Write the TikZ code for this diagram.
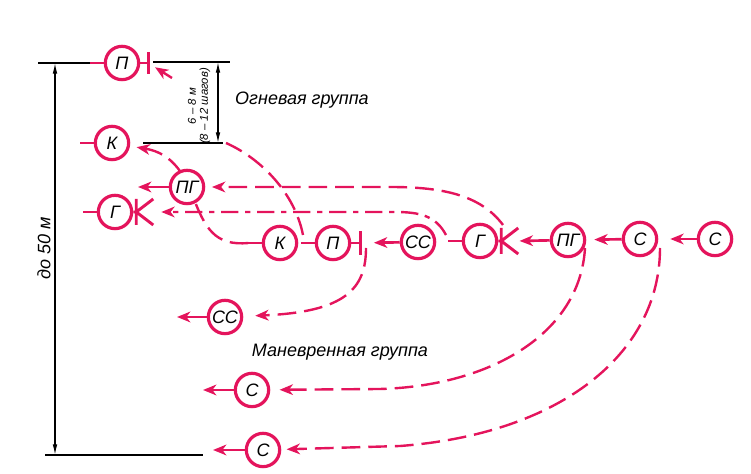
\documentclass[tikz,border=0pt]{standalone}
\usepackage{fontspec}
\setmainfont{Liberation Sans}
\usetikzlibrary{arrows.meta,backgrounds}

\definecolor{troop}{RGB}{228,20,92}

\tikzset{
  unit/.style={circle, draw=troop, fill=white, line width=2.4pt, minimum size=25pt,
    inner sep=0pt, font=\fontsize{13.5}{13.5}\selectfont\itshape},
  stub/.style={troop, line width=2.2pt},
  go/.style={troop, line width=2pt, -{Stealth[length=10pt,width=8pt,inset=3pt]}},
  move/.style={go, line width=1.8pt, dash pattern=on 14pt off 6pt},
  movedot/.style={go, line width=1.8pt, dash pattern=on 13pt off 5pt on 4pt off 5pt},
  dim/.style={black, line width=0.9pt},
  dimarrow/.style={dim, {Latex[length=8pt,width=3.5pt]}-{Latex[length=8pt,width=3.5pt]}},
  grouptext/.style={font=\fontsize{13.5}{15}\selectfont\itshape},
  smalltext/.style={font=\fontsize{8.5}{9}\selectfont\itshape},
}

\begin{document}
\begin{tikzpicture}[x=0.75pt, y=0.75pt]
  \useasboundingbox (0,0) rectangle (751,474);

  % fire group
  \node[unit] (pT)  at (122,411) {П};
  \node[unit] (kT)  at (112,331) {К};
  \node[unit] (pgT) at (187,287) {ПГ};
  \node[unit] (gT)  at (115,262) {Г};

  % column
  \node[unit] (k1)  at (280,231) {К};
  \node[unit] (p1)  at (333,231) {П};
  \node[unit] (ss1) at (418,232) {СС};
  \node[unit] (g1)  at (480,233) {Г};
  \node[unit] (pg1) at (568,234) {ПГ};
  \node[unit] (s1)  at (640,235) {С};
  \node[unit] (s2)  at (715,235) {С};

  % manoeuvre group
  \node[unit] (ssB) at (225,157) {СС};
  \node[unit] (sB1) at (252,84)  {С};
  \node[unit] (sB2) at (263,24)  {С};

  % stubs, bars and forks
  \foreach \n in {pT,kT,gT,k1,p1,g1} {
    \coordinate (\n-end) at ([xshift=-10pt]\n.west);
    \draw[stub] (\n.west) -- (\n-end);
  }
  \coordinate (pT-bar) at ([xshift=6pt]pT.east);
  \coordinate (p1-bar) at ([xshift=7pt]p1.east);
  \draw[stub] (pT.east) -- (pT-bar) ++(0,-11) -- ++(0,22);
  \draw[stub] (p1.east) -- (p1-bar) ++(0,-12) -- ++(0,24);
  \foreach \n in {gT,g1} {
    \coordinate (\n-bar) at ([xshift=2.25pt]\n.east);
    \coordinate (\n-tip) at ([xshift=15pt]\n.east);
    \draw[stub] (\n.east) -- (\n-bar) ++(0,-13) -- ++(0,26)
      (\n-bar) -- ++(17,13) (\n-bar) -- ++(17,-13);
  }

  % solid moves
  \draw[go, shorten >=9pt] (s2) -- (s1);
  \draw[go, shorten >=6pt] (s1) -- (pg1);
  \draw[go, shorten >=1pt] (pg1) -- (g1-tip);
  \draw[go, shorten >=10pt] (ss1) -- (p1-bar);
  \draw[go] (pgT) -- ++(-49,0);
  \draw[go] (ssB) -- ++(-48,0);
  \draw[go] (sB1) -- ++(-49,0);
  \draw[go] (sB2) -- ++(-50,0);

  % break points of the dashed routes
  \coordinate (gapKP) at (303,239);
  \coordinate (brkA)  at (226,331);
  \coordinate (brkB)  at (172,396);
  \coordinate (p1out) at (366,226);
  \coordinate (pg1out) at (585,226);
  \coordinate (s1out) at (660,226);
  \coordinate (g1up)  at (503,249);
  \coordinate (ssgap) at (446,239);

  % dashed routes
  \begin{scope}[on background layer]
    \draw[move, shorten >=5pt] (k1-end) .. controls (215,228) and (205,245) .. (192,280)
      .. controls (180,310) and (165,322) .. (kT);
    \draw[move, -] (gapKP) .. controls (295,280) and (262,315) .. (brkA);
    \draw[move, shorten >=6pt] (brkB) -- (pT-bar);
    \draw[move, shorten >=9pt] (p1out) .. controls (366,185) and (345,162) .. (ssB);
    \draw[move, shorten >=7pt] (pg1out) .. controls (580,140) and (490,88) .. (380,85) -- (sB1);
    \draw[move, shorten >=4pt] (s1out) .. controls (660,120) and (560,40) .. (400,28) -- (sB2);
    \draw[move, shorten >=5pt] (g1up) .. controls (480,280) and (440,287) .. (390,287) -- (pgT);
    \draw[movedot, shorten >=6pt] (ssgap) .. controls (436,258) and (420,262) .. (395,262) -- (gT-tip);
  \end{scope}

  % dimensions
  \draw[dim] (38,411) -- (90,411);
  \draw[dim] (45,19) -- (203,19);
  \draw[dimarrow] (55,19) -- (55,411);
  \node[grouptext, rotate=90] (dimL) at (44,226) {до 50 м};

  \draw[dim] (153,412) -- (230,412);
  \draw[dim] (143,331) -- (223,331);
  \draw[dimarrow] (218,331) -- (218,412);
  \node[smalltext, rotate=90] (dimA) at (192,368) {6 – 8 м};
  \node[smalltext, rotate=90] (dimB) at (205,368) {(8 – 12 шагов)};

  % group names
  \node[grouptext] (fireLbl) at (302,374) {Огневая группа};
  \node[grouptext] (manLbl)  at (340,122) {Маневренная группа};
\end{tikzpicture}
\end{document}
